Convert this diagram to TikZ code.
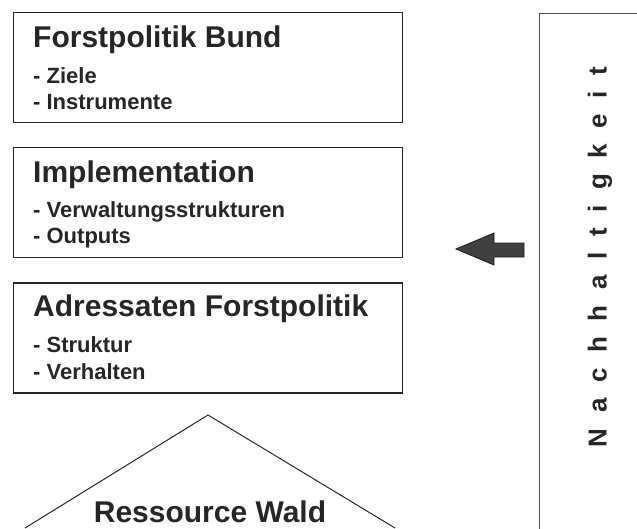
\documentclass[tikz,border=0pt]{standalone}
\usepackage{fontspec}
\setmainfont{Liberation Sans}
\usetikzlibrary{positioning}
\begin{document}
\begin{tikzpicture}[x=1pt,y=1pt,
    box/.style={draw=black!85, line width=1.2pt, minimum width=389pt, minimum height=110pt, inner sep=0pt},
    head/.style={anchor=base west, inner sep=0pt, text=black!85, font=\fontsize{30}{30}\selectfont\bfseries},
    item/.style={anchor=base west, inner sep=0pt, text=black!85, font=\fontsize{22}{22}\selectfont\bfseries},
    node distance=24pt]
    \useasboundingbox (0,0) rectangle (637,-528);
    \clip (0,0) rectangle (637,-528);
    % the three levels
    \node[box, anchor=north west] (bund) at (13,-12) {};
    \node[box, below=of bund] (impl) {};
    \node[box, below=of impl] (adr) {};
    \node[head] (bundT) at ([xshift=20pt,yshift=-35pt]bund.north west) {Forstpolitik Bund};
    \node[item] (bundA) at ([yshift=-36pt]bundT.base west) {- Ziele};
    \node[item] (bundB) at ([yshift=-26pt]bundA.base west) {- Instrumente};
    \node[head] (implT) at ([xshift=20pt,yshift=-35pt]impl.north west) {Implementation};
    \node[item] (implA) at ([yshift=-35pt]implT.base west) {- Verwaltungsstrukturen};
    \node[item] (implB) at ([yshift=-26pt]implA.base west) {- Outputs};
    \node[head] (adrT) at ([xshift=20pt,yshift=-34pt]adr.north west) {Adressaten Forstpolitik};
    \node[item] (adrA) at ([yshift=-36pt]adrT.base west) {- Struktur};
    \node[item] (adrB) at ([yshift=-27pt]adrA.base west) {- Verhalten};
    % resource
    \coordinate (apex) at (208,-415);
    \draw[black!85, line width=1pt] (25,-528) -- (apex) -- (395,-528);
    \node[head, anchor=base] (wald) at (210,-522) {Ressource Wald};
    % sustainability frame
    \draw[black!70, line width=1pt] (539,-13) rectangle (660,-540);
    \node[rotate=90, inner sep=0pt, text=black!85, font=\fontsize{26}{26}\selectfont\bfseries\addfontfeature{LetterSpace=60}] (nach) at (600,-257) {Nachhaltigkeit};
    \filldraw[fill=black!75, draw=black!90, line width=0.8pt] (524,-243) -- (494,-243) -- (494,-233) -- (456,-249) -- (494,-265) -- (494,-257) -- (524,-257) -- cycle;
\end{tikzpicture}
\end{document}
